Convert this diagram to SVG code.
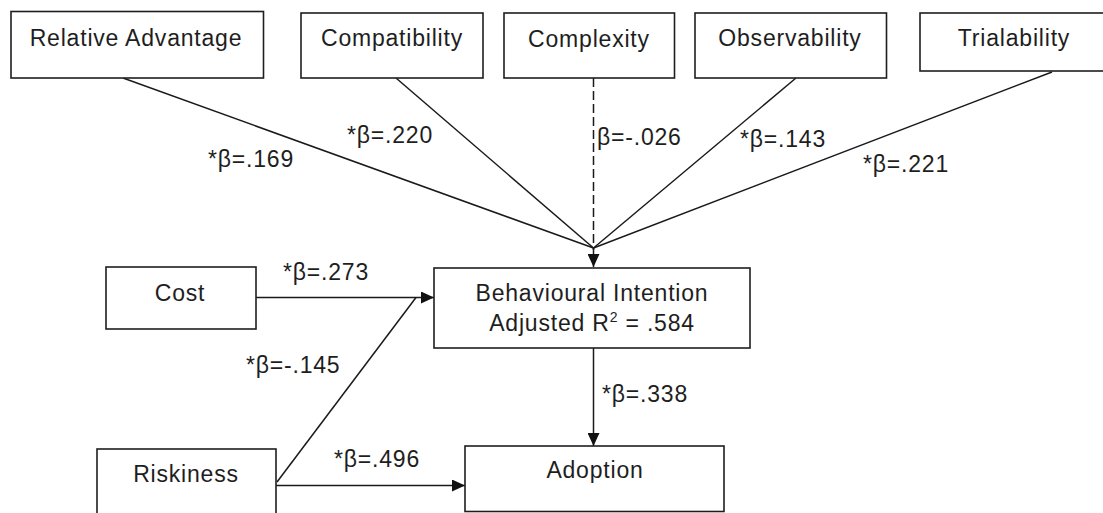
<svg xmlns="http://www.w3.org/2000/svg" width="1103" height="513" viewBox="0 0 1103 513">
<defs>
<style>
.box{fill:#fff;stroke:#1e1e1e;stroke-width:1.6}
.t{font-family:"Liberation Sans",Arial,sans-serif;font-size:23px;fill:#1e1e1e;letter-spacing:0.8px}
.c{text-anchor:middle}
.ln{stroke:#1a1a1a;stroke-width:1.5;fill:none}
.dash{stroke-dasharray:9,4}
</style>
<marker id="ah" viewBox="0 0 13 12" refX="13" refY="6" markerWidth="13" markerHeight="12" markerUnits="userSpaceOnUse" orient="auto">
<path d="M0,0 L13,6 L0,12 z" fill="#111"/>
</marker>
</defs>
<rect width="1103" height="513" fill="#fff"/>
<g id="connectors">
<line class="ln" x1="123" y1="78" x2="593.5" y2="248"/>
<line class="ln" x1="396" y1="78" x2="593.5" y2="248"/>
<line class="ln dash" x1="593.5" y1="78" x2="593.5" y2="250"/>
<line class="ln" x1="796" y1="78" x2="593.5" y2="248"/>
<line class="ln" x1="1052" y1="72" x2="593.5" y2="248"/>
<line class="ln" x1="593.5" y1="248" x2="593.5" y2="267" marker-end="url(#ah)"/>
<line class="ln" x1="256" y1="297.5" x2="434" y2="297.5" marker-end="url(#ah)"/>
<line class="ln" x1="277" y1="482" x2="416" y2="297.5"/>
<line class="ln" x1="276" y1="485.5" x2="465" y2="485.5" marker-end="url(#ah)"/>
<line class="ln" x1="593.5" y1="348" x2="593.5" y2="446" marker-end="url(#ah)"/>
<text class="t" x="208" y="167">*β=.169</text>
<text class="t" x="347" y="143">*β=.220</text>
<text class="t" x="597" y="145">β=-.026</text>
<text class="t" x="740" y="147">*β=.143</text>
<text class="t" x="863" y="172">*β=.221</text>
<text class="t" x="283" y="280">*β=.273</text>
<text class="t" x="246" y="373">*β=-.145</text>
<text class="t" x="334" y="467">*β=.496</text>
<text class="t" x="602" y="402">*β=.338</text>
</g>
<g id="relative-advantage">
<rect class="box" x="11" y="11.5" width="252.5" height="66.5"/>
<text class="t c" x="136" y="46">Relative Advantage</text>
</g>
<g id="compatibility">
<rect class="box" x="301" y="13" width="182" height="65"/>
<text class="t c" x="392" y="46">Compatibility</text>
</g>
<g id="complexity">
<rect class="box" x="504" y="13" width="170.5" height="65"/>
<text class="t c" x="589" y="47">Complexity</text>
</g>
<g id="observability">
<rect class="box" x="695" y="13" width="191.5" height="65"/>
<text class="t c" x="790" y="46">Observability</text>
</g>
<g id="trialability">
<rect class="box" x="920" y="13" width="190" height="58"/>
<text class="t c" x="1014" y="46">Trialability</text>
</g>
<g id="cost">
<rect class="box" x="106" y="267" width="150" height="62"/>
<text class="t c" x="180" y="301">Cost</text>
</g>
<g id="behavioural-intention">
<rect class="box" x="434" y="268" width="316" height="80"/>
<text class="t c" x="592" y="301">Behavioural Intention</text>
<text class="t c" x="592" y="331">Adjusted R<tspan dy="-9" font-size="14">2</tspan><tspan dy="9"> = .584</tspan></text>
</g>
<g id="riskiness">
<rect class="box" x="97" y="449" width="179" height="70"/>
<text class="t c" x="186" y="482">Riskiness</text>
</g>
<g id="adoption">
<rect class="box" x="465" y="446" width="259" height="65.5"/>
<text class="t c" x="595" y="478">Adoption</text>
</g>
</svg>
